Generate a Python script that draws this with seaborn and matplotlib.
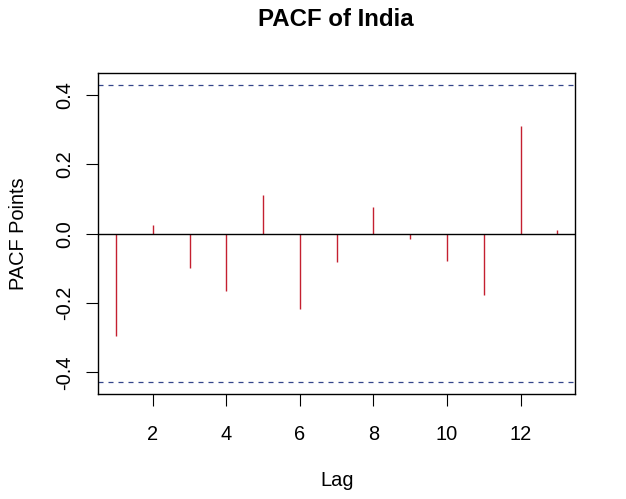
import numpy as np
import pandas as pd
import matplotlib
matplotlib.use("Agg")
import matplotlib.pyplot as plt
import seaborn as sns

# PACF values
lags = [1, 2, 3, 4, 5, 6, 7, 8, 9, 10, 11, 12, 13]
pacf_vals = [-0.295, 0.025, -0.099, -0.164, 0.112, -0.218, -0.081,
             0.076, -0.016, -0.079, -0.178, 0.309, 0.012]
n_obs = 21
clim = 1.96 / np.sqrt(n_obs)

df = pd.DataFrame({"Lag": lags, "PACF": pacf_vals})

sns.set_style("white")
plt.rcParams["font.family"] = ["Liberation Sans", "DejaVu Sans"]
plt.rcParams["text.color"] = "black"
plt.rcParams["axes.labelcolor"] = "black"
plt.rcParams["xtick.color"] = "black"
plt.rcParams["ytick.color"] = "black"

fig = plt.figure(figsize=(6.26, 4.99), dpi=100)
ax = fig.add_axes([0.157, 0.2104, 0.7615, 0.6426])

ax.vlines(df.Lag, 0, df.PACF, color="#c42030", linewidth=1.0)
ax.axhline(0, color="black", linewidth=1.0)
ax.axhline(clim, color="#34468a", linewidth=0.9, linestyle=(0, (4, 4)))
ax.axhline(-clim, color="#34468a", linewidth=0.9, linestyle=(0, (4, 4)))

ax.set_xlim(0.52, 13.48)
ax.set_ylim(-0.462, 0.462)
ax.set_xticks([2, 4, 6, 8, 10, 12])
ax.set_yticks([-0.4, -0.2, 0.0, 0.2, 0.4])
ax.set_yticklabels(["-0.4", "-0.2", "0.0", "0.2", "0.4"], rotation=90, va="center")

for s in ax.spines.values():
    s.set_visible(True)
    s.set_color("black")
    s.set_linewidth(1.0)

ax.tick_params(axis="both", which="major", direction="out", length=8.5,
               width=0.8, labelsize=14.4, bottom=True, left=True)
ax.tick_params(axis="x", pad=13.5)
ax.tick_params(axis="y", pad=9)
ax.set_xlabel("Lag", fontsize=14.4, labelpad=20)
ax.set_ylabel("PACF Points", fontsize=14.4, labelpad=19.4)
fig.suptitle("PACF of India", fontsize=17.3, fontweight="bold",
             x=0.537, y=1 - 19.5 / 499, va="center")

fig.savefig("out.png", dpi=100)
